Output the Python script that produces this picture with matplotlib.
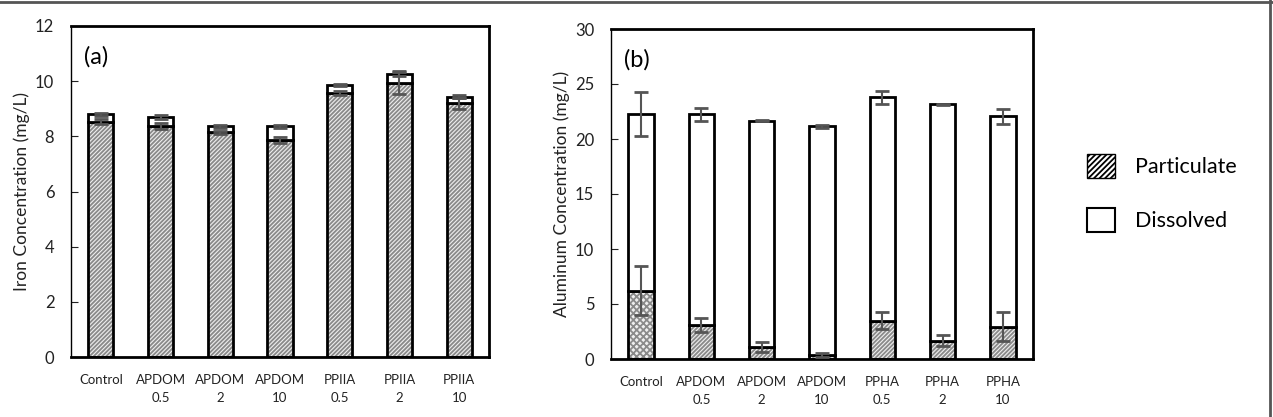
import matplotlib.pyplot as plt
import matplotlib
import numpy as np
from matplotlib.patches import Patch
from matplotlib.lines import Line2D

matplotlib.rcParams['hatch.linewidth'] = 1.3
plt.rcParams['font.family'] = ['Lato', 'DejaVu Sans']

# categories
labels = ['Control', 'APDOM\n0.5', 'APDOM\n2', 'APDOM\n10', 'PPHA\n0.5', 'PPHA\n2', 'PPHA\n10']
labels_a = ['Control', 'APDOM\n0.5', 'APDOM\n2', 'APDOM\n10', 'PPIIA\n0.5', 'PPIIA\n2', 'PPIIA\n10']

# iron (a): particulate part and total (particulate + dissolved)
fe_part = [8.53, 8.38, 8.14, 7.87, 9.57, 9.93, 9.20]
fe_part_err = [0.10, 0.10, 0.05, 0.10, 0.07, 0.40, 0.20]
fe_total = [8.80, 8.70, 8.36, 8.36, 9.87, 10.27, 9.44]
fe_total_err = [0.05, 0.08, 0.04, 0.04, 0.04, 0.10, 0.05]

# aluminum (b)
al_part = [6.22, 3.10, 1.12, 0.36, 3.49, 1.67, 2.94]
al_part_err = [2.2, 0.6, 0.45, 0.15, 0.8, 0.5, 1.3]
al_total = [22.26, 22.26, 21.66, 21.14, 23.80, 23.17, 22.05]
al_total_err = [2.0, 0.6, 0.05, 0.1, 0.6, 0.05, 0.7]

fig = plt.figure(figsize=(12.73, 4.17), dpi=100)
ax1 = fig.add_axes([71/1273, 1-357/417, 418/1273, 331/417])
ax2 = fig.add_axes([611/1273, 1-359/417, 422/1273, 330/417])

x = np.arange(len(labels))
w = 0.42
errc = '#555555'

def draw(ax, part, perr, total, terr, ylim, yticks, ylabel, tag, xl, hatches):
    diss = [t - p for t, p in zip(total, part)]
    for i in range(len(x)):
        ax.bar(x[i], part[i], w, color='#eeeeee', edgecolor='#8a8a8a', hatch=hatches[i], linewidth=0, zorder=2)
        ax.bar(x[i], part[i], w, color='none', edgecolor='black', linewidth=2, zorder=3)
    ax.bar(x, diss, w, bottom=part, color='white', edgecolor='black', linewidth=2, zorder=3)
    ax.errorbar(x, part, yerr=perr, fmt='none', ecolor=errc, elinewidth=1.5, capsize=5, capthick=2, zorder=4)
    ax.errorbar(x, total, yerr=terr, fmt='none', ecolor=errc, elinewidth=1.5, capsize=5, capthick=2, zorder=4)
    ax.set_xlim(-0.5, len(x) - 0.5)
    ax.set_ylim(*ylim)
    ax.set_yticks(yticks)
    ax.set_xticks(x)
    ax.set_xticklabels(xl, fontsize=9.5, color='#222222', linespacing=1.6)
    ax.tick_params(axis='x', length=0, pad=12)
    ax.tick_params(axis='y', direction='in', length=5, labelsize=12, pad=12, colors='#222222')
    ax.set_ylabel(ylabel, fontsize=12.5, color='#222222', labelpad=4)
    ax.text(0.03, 0.94, tag, transform=ax.transAxes, fontsize=17, va='top', ha='left')
    for s in ['top', 'right', 'bottom']:
        ax.spines[s].set_linewidth(2)
    ax.spines['left'].set_linewidth(1)

draw(ax1, fe_part, fe_part_err, fe_total, fe_total_err, (0, 12), range(0, 13, 2),
     'Iron Concentration (mg/L)', '(a)', labels_a, ['////////'] * 7)
draw(ax2, al_part, al_part_err, al_total, al_total_err, (0, 30), range(0, 31, 5),
     'Aluminum Concentration (mg/L)', '(b)', labels, ['xxxxx'] + ['////////'] * 6)

handles = [Patch(facecolor='white', edgecolor='black', hatch='//////', linewidth=1),
           Patch(facecolor='white', edgecolor='black', linewidth=1.5)]
fig.legend(handles, ['Particulate', 'Dissolved'], loc='center left',
           bbox_to_anchor=(1068/1273, 1-193/417), frameon=False, fontsize=15.5,
           handlelength=1.3, handleheight=1.3, labelspacing=1.4, handletextpad=0.9)

# outer frame lines (top and right) of the original image
fig.add_artist(Line2D([0, 1], [0.996, 0.996], transform=fig.transFigure, color='#555555', lw=2))
fig.add_artist(Line2D([0.9975, 0.9975], [0, 1], transform=fig.transFigure, color='#555555', lw=2))

plt.savefig('out.png', dpi=100)
